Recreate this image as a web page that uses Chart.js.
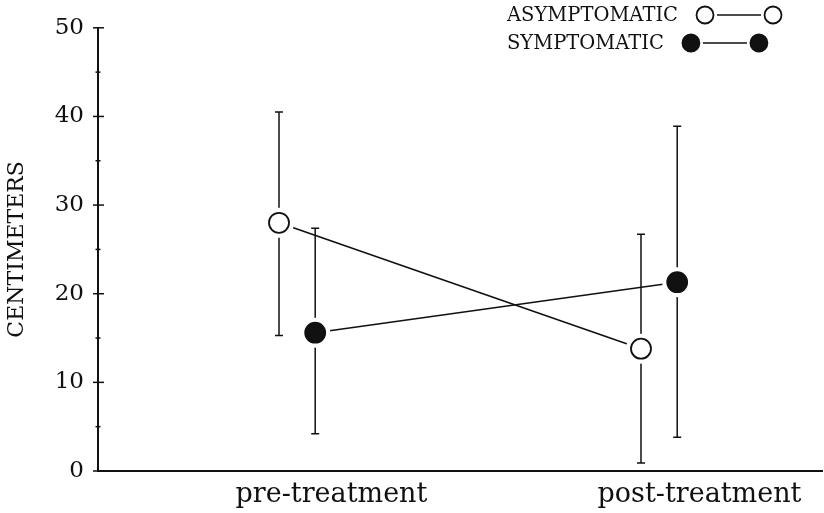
<!DOCTYPE html>
<html><head><meta charset="utf-8">
<script src="https://cdn.jsdelivr.net/npm/chart.js@4/dist/chart.umd.min.js"></script>
<style>html,body{margin:0;padding:0;background:#fff}</style>
</head><body>
<canvas id="c" width="824" height="513"></canvas>
<script>
// ---- data ----
const categories = ['pre-treatment', 'post-treatment'];
const seriesNames = ['ASYMPTOMATIC', 'SYMPTOMATIC'];
const asymMean  = [28.0, 13.8];
const asymUpper = [40.5, 26.7];
const asymLower = [15.3, 0.9];
const symMean   = [15.6, 21.3];
const symUpper  = [27.4, 38.9];
const symLower  = [4.2, 3.8];
const yMajorTicks = [0, 10, 20, 30, 40, 50];
const yMinorTicks = [5, 15, 25, 35, 45];

// ---- layout helpers ----
const groupPos = i => 1 + 2 * i;
const seriesOffset = [0, 0.2];
const labelOffset = -0.24;
const INK = '#111';
const FONT = "'DejaVu Serif', serif";

function pts(means, s) {
  return means.map((m, i) => ({ x: groupPos(i) + seriesOffset[s], y: m }));
}

const datasets = [
  { label: seriesNames[0], data: pts(asymMean, 0), upper: asymUpper, lower: asymLower, filled: false },
  { label: seriesNames[1], data: pts(symMean, 1), upper: symUpper, lower: symLower, filled: true }
].map(d => Object.assign(d, {
  showLine: true, borderColor: INK, borderWidth: 1.6, pointRadius: 0, pointHoverRadius: 0
}));

function drawMarker(ctx, x, y, r, filled) {
  ctx.beginPath(); ctx.arc(x, y, r, 0, Math.PI * 2);
  ctx.fillStyle = filled ? INK : '#fff'; ctx.fill();
  ctx.lineWidth = 1.8; ctx.strokeStyle = INK; ctx.stroke();
}

const decoPlugin = {
  id: 'deco',
  afterDatasetsDraw(chart) {
    const ctx = chart.ctx, ys = chart.scales.y;
    ctx.save();
    // error bars
    chart.data.datasets.forEach((ds, di) => {
      chart.getDatasetMeta(di).data.forEach((p, i) => {
        const t = ys.getPixelForValue(ds.upper[i]);
        const b = ys.getPixelForValue(ds.lower[i]);
        ctx.beginPath();
        ctx.moveTo(p.x, t); ctx.lineTo(p.x, b);
        ctx.moveTo(p.x - 4, t); ctx.lineTo(p.x + 4, t);
        ctx.moveTo(p.x - 4, b); ctx.lineTo(p.x + 4, b);
        ctx.lineWidth = 1.5; ctx.strokeStyle = INK; ctx.stroke();
      });
    });
    // markers with white halo
    chart.data.datasets.forEach((ds, di) => {
      chart.getDatasetMeta(di).data.forEach(p => {
        ctx.beginPath(); ctx.arc(p.x, p.y, 15, 0, Math.PI * 2);
        ctx.fillStyle = '#fff'; ctx.fill();
        drawMarker(ctx, p.x, p.y, 10, ds.filled);
      });
    });
    // y-axis ticks crossing the axis
    const ax = chart.chartArea.left;
    ctx.lineWidth = 1.5; ctx.strokeStyle = INK;
    yMajorTicks.forEach(v => {
      const y = ys.getPixelForValue(v);
      ctx.beginPath(); ctx.moveTo(ax - 5, y); ctx.lineTo(ax + 6, y); ctx.stroke();
    });
    yMinorTicks.forEach(v => {
      const y = ys.getPixelForValue(v);
      ctx.beginPath(); ctx.moveTo(ax - 2.5, y); ctx.lineTo(ax + 2.5, y); ctx.stroke();
    });
    // legend
    ctx.font = "19.5px " + FONT;
    ctx.textBaseline = 'middle'; ctx.textAlign = 'left';
    const lx = 507, rows = [15, 43];
    chart.data.datasets.forEach((ds, di) => {
      const y = rows[di];
      ctx.fillStyle = INK;
      ctx.fillText(ds.label, lx, y + 1);
      const end = lx + ctx.measureText(ds.label).width;
      const c1 = end + 27, c2 = c1 + 68;
      ctx.beginPath(); ctx.moveTo(c1 + 12, y); ctx.lineTo(c2 - 12, y);
      ctx.lineWidth = 1.3; ctx.strokeStyle = INK; ctx.stroke();
      drawMarker(ctx, c1, y, 8.5, ds.filled);
      drawMarker(ctx, c2, y, 8.5, ds.filled);
    });
    ctx.restore();
  }
};

new Chart(document.getElementById('c'), {
  type: 'scatter',
  data: { datasets },
  plugins: [decoPlugin],
  options: {
    responsive: false, animation: false, devicePixelRatio: 1,
    layout: { padding: { top: 22, right: 2, left: 0, bottom: 0 } },
    plugins: { legend: { display: false }, tooltip: { enabled: false } },
    scales: {
      x: {
        type: 'linear', min: 0, max: 4,
        afterBuildTicks: s => { s.ticks = categories.map((c, i) => ({ value: groupPos(i) + labelOffset })); },
        afterFit: s => { s.height = 42; },
        ticks: {
          callback: (v, i) => categories[i], align: 'start',
          font: { family: FONT, size: 27 }, color: INK, padding: 8, maxRotation: 0, autoSkip: false
        },
        grid: { display: true, drawOnChartArea: false, drawTicks: false },
        border: { display: true, color: INK, width: 2 }
      },
      y: {
        min: 0, max: 50,
        afterBuildTicks: s => { s.ticks = yMajorTicks.map(v => ({ value: v })); },
        afterFit: s => { s.width = 98; },
        ticks: { font: { family: FONT, size: 23 }, color: INK, padding: 14 },
        grid: { display: true, drawOnChartArea: false, drawTicks: false },
        border: { display: true, color: INK, width: 2 },
        title: { display: true, text: 'CENTIMETERS', font: { family: FONT, size: 22 }, color: INK, padding: { top: 4, bottom: 0 } }
      }
    }
  }
});
</script>
</body></html>
